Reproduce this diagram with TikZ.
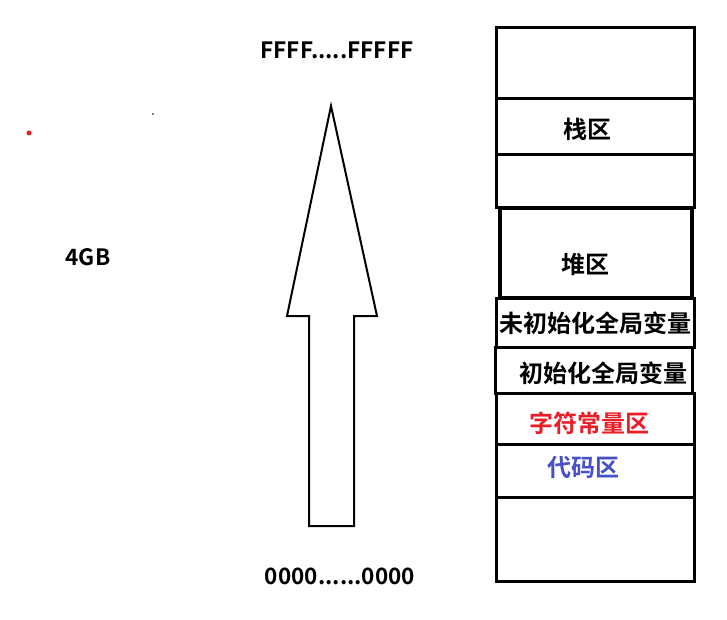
\documentclass[tikz,border=0pt]{standalone}
\usepackage{fontspec}
\setmainfont{Noto Sans CJK SC Bold}
\usepackage{tikz}
\usetikzlibrary{positioning}
\definecolor{constred}{RGB}{235,30,40}
\definecolor{codeblue}{RGB}{70,80,200}

\begin{document}
\begin{tikzpicture}[
  x=1pt, y=-1pt,
  cell/.style={draw, line width=3pt, minimum width=198pt, inner sep=0, outer sep=0},
  lbl/.style={font=\fontsize{24}{24}\selectfont, inner sep=0},
  addr/.style={font=\fontsize{22.5}{22.5}\selectfont, inner sep=0}
]
  \useasboundingbox (0,0) rectangle (727,620);

  % Memory column
  \node[cell, minimum height=71pt] (top) at (595,63.5) {};
  \node[cell, minimum height=56pt] (stack) at (595,127) {};
  \node[cell, minimum height=53pt] (gap) at (595,181.5) {};
  \node[cell, line width=3.5pt, minimum height=90pt, minimum width=192pt] (heap) at (596,253) {};
  \node[cell, minimum height=49pt] (bss) at (595,322.5) {};
  \node[cell, minimum height=46pt, minimum width=197pt] (data) at (593.5,370) {};
  \node[cell, minimum height=51pt] (rodata) at (595,418.5) {};
  \node[cell, minimum height=53pt] (text) at (595,470.5) {};
  \node[cell, minimum height=84pt] (bottom) at (595,539) {};

  % Region names
  \node[lbl] (stacklbl) at (587,129) {栈区};
  \node[lbl] (heaplbl) at (585,264) {堆区};
  \node[lbl] (bsslbl) at (595,323) {未初始化全局变量};
  \node[lbl] (datalbl) at (603,373) {初始化全局变量};
  \node[lbl, text=constred] (rodatalbl) at (589,423) {字符常量区};
  \node[lbl, text=codeblue] (textlbl) at (583,467) {代码区};

  % Address arrow
  \draw[line width=2pt, line join=miter]
    (331,106) -- (377,316) -- (354,316) -- (354,526) -- (309,526)
    -- (309,316) -- (287,316) -- cycle;
  \node[addr] (high) at (337,50) {FFFF.....FFFFF};
  \node[addr] (low) at (340,576) {0000......0000};
  \node[addr] (size) at (88,257) {4GB};

  % Stray dots
  \fill[constred] (29,133) circle (2.5pt);
  \fill (153,114) circle (0.8pt);
\end{tikzpicture}
\end{document}
